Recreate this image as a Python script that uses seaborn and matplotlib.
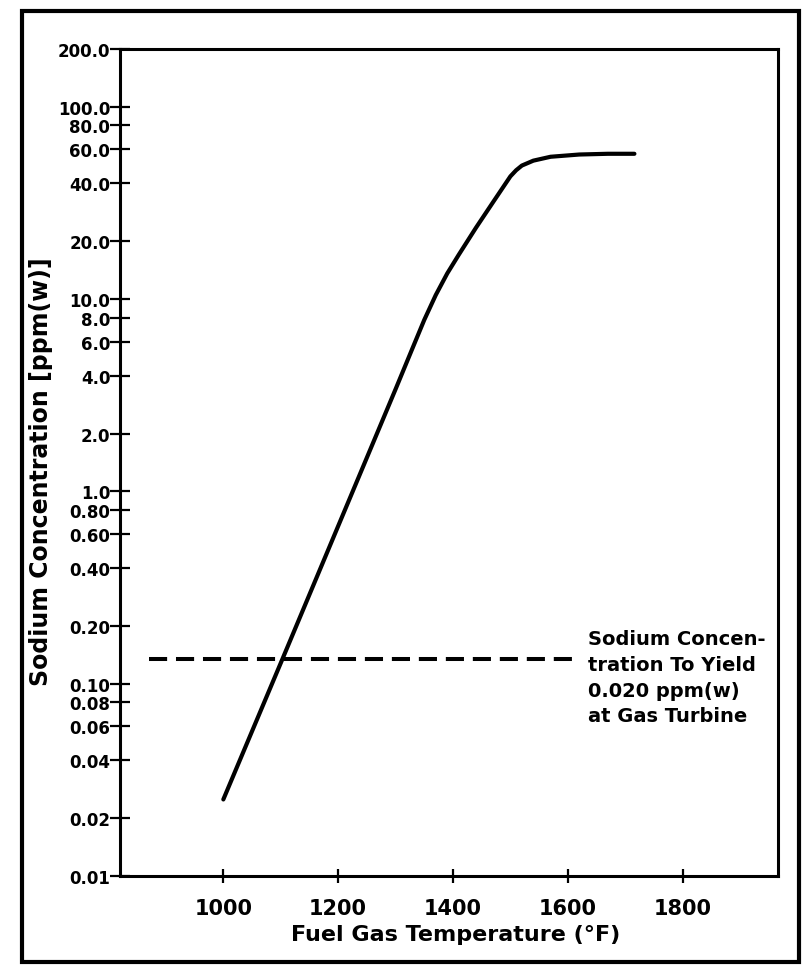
import matplotlib.pyplot as plt
import seaborn as sns
from matplotlib.patches import Rectangle

# curve
temps = [1000, 1100, 1200, 1300, 1330, 1350, 1370, 1390, 1410, 1440, 1470, 1500, 1510,
         1520, 1540, 1570, 1620, 1670, 1716]
sodium_ppm = [0.025, 0.128, 0.66, 3.4, 5.6, 7.8, 10.5, 13.6, 17.0, 23.5, 32.0, 43.5, 46.8,
              49.5, 52.5, 55.0, 56.5, 57.0, 57.0]

# dashed limit line
limit_temps = [870, 1620]
limit_ppm = [0.135, 0.135]

xtick_vals = [1000, 1200, 1400, 1600, 1800]
ytick_vals = [0.01, 0.02, 0.04, 0.06, 0.08, 0.10, 0.20, 0.40, 0.60, 0.80,
              1.0, 2.0, 4.0, 6.0, 8.0, 10.0, 20.0, 40.0, 60.0, 80.0, 100.0, 200.0]
ytick_labels = ['0.01', '0.02', '0.04', '0.06', '0.08', '0.10', '0.20', '0.40', '0.60', '0.80',
                '1.0', '2.0', '4.0', '6.0', '8.0', '10.0', '20.0', '40.0', '60.0', '80.0', '100.0', '200.0']

note = 'Sodium Concen-\ntration To Yield\n0.020 ppm(w)\nat Gas Turbine'

sns.set_style('ticks')
plt.rcParams['font.family'] = ['DejaVu Sans']
plt.rcParams['font.weight'] = 'bold'
plt.rcParams['text.color'] = 'black'
plt.rcParams['axes.labelcolor'] = 'black'
plt.rcParams['xtick.color'] = 'black'
plt.rcParams['ytick.color'] = 'black'

fig = plt.figure(figsize=(8.02, 9.70), dpi=100)
ax = fig.add_axes([0.1496, 0.0959, 0.8204, 0.8526])

sns.lineplot(x=temps, y=sodium_ppm, ax=ax, color='black', lw=3)
sns.lineplot(x=limit_temps, y=limit_ppm, ax=ax, color='black', lw=2.9,
             linestyle=(0, (4.5, 2.2)))

ax.set_yscale('log')
ax.set_xlim(820, 1966)
ax.set_ylim(0.01, 200)
ax.set_xticks(xtick_vals)
ax.set_xticklabels([str(v) for v in xtick_vals], fontsize=15, fontweight='bold')
ax.set_yticks(ytick_vals)
ax.set_yticklabels(ytick_labels, fontsize=12, fontweight='bold')
ax.yaxis.set_minor_locator(plt.NullLocator())
ax.tick_params(axis='y', direction='inout', length=14, width=1.6, pad=0, left=True)
ax.tick_params(axis='x', direction='inout', length=10, width=1.6, pad=11, bottom=True)

for s in ax.spines.values():
    s.set_visible(True)
    s.set_color('black')
    s.set_linewidth(2.2)

ax.set_xlabel('Fuel Gas Temperature (°F)', fontsize=16, fontweight='bold')
ax.set_ylabel('Sodium Concentration [ppm(w)]', fontsize=17, fontweight='bold')
ax.xaxis.set_label_coords(0.51, -0.058)
ax.yaxis.set_label_coords(-0.102, 0.49)

ax.text(1635, 0.108, note, fontsize=14, fontweight='bold', va='center', ha='left',
        linespacing=1.45)

# outer frame around the whole figure
fig.patches.append(Rectangle((22 / 802, 1 - 963 / 970), 777 / 802, 951 / 970,
                             transform=fig.transFigure, fill=False, lw=3, ec='black'))

plt.savefig('out.png', dpi=100)
plt.close()
